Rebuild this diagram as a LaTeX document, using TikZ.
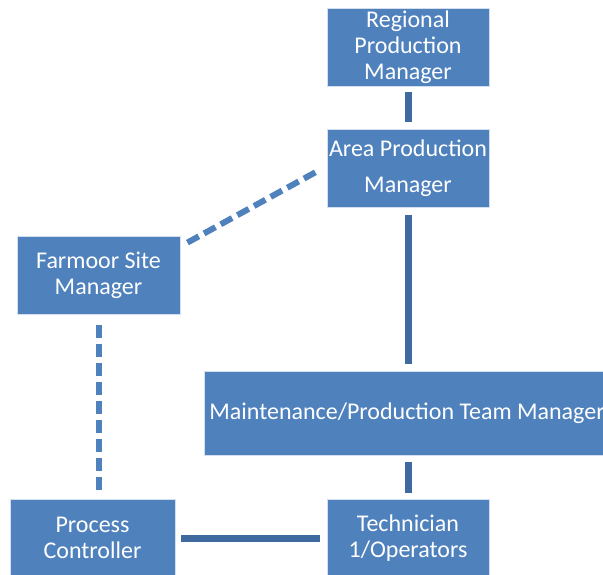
\documentclass[tikz,border=0pt]{standalone}
\usepackage{fontspec}
\setmainfont{Carlito}
\usetikzlibrary{positioning}
\usetikzlibrary{calc}
\definecolor{boxblue}{RGB}{79,129,189}
\definecolor{linkblue}{RGB}{62,106,160}

\begin{document}
\begin{tikzpicture}[x=1pt,y=-1pt]
\useasboundingbox (0,0) rectangle (603,575);
\clip (0,0) rectangle (603,575);
 \tikzstyle{every node}=[draw=white!75!boxblue,line width=0.8pt,fill=boxblue,text=white,
   font=\fontsize{24}{26}\selectfont,align=center,inner sep=0pt];
 \tikzstyle{link}=[draw=linkblue,line width=7pt];
 \tikzstyle{dotlink}=[draw=boxblue,line width=6pt,dash pattern=on 13pt off 6pt];
% the chain of managers
\node (regional) [minimum width=162,minimum height=78] at (408,47) {Regional\\Production\\Manager};
\node (area) [minimum width=162,minimum height=78] at (408,168) {Area Production\\[10pt]Manager};
\node (farmoor) [minimum width=163,minimum height=78] at (98.5,275) {Farmoor Site\\Manager};
\node (maint) [anchor=west,minimum height=84,text width=410,align=flush left,inner xsep=5pt] at (204,413)
  {Maintenance/Production Team Manager};
% the shop floor
\node (process) [minimum width=165,minimum height=78] at (92.5,538) {Process\\Controller};
\node (tech) [minimum width=162,minimum height=78] at (408,538) {Technician\\1/Operators};
% solid reporting lines
\draw [link,shorten <=6pt,shorten >=7pt] (regional) -- (area);
\draw [link,shorten <=8pt,shorten >=7pt] (area.south) -- (area.south |- maint.north);
\draw [link,shorten <=7pt,shorten >=6pt] (tech.north |- maint.south) -- (tech.north);
\draw [link,shorten <=6pt,shorten >=7pt] (process) -- (tech);
% dotted lines
\draw [dotlink] ($(farmoor.north east)+(7,7)$) -- ($(area.west)+(-7,2)$);
\draw [dotlink,shorten <=11pt,shorten >=7pt] (farmoor.south) -- (farmoor.south |- process.north);
\end{tikzpicture}
\end{document}
